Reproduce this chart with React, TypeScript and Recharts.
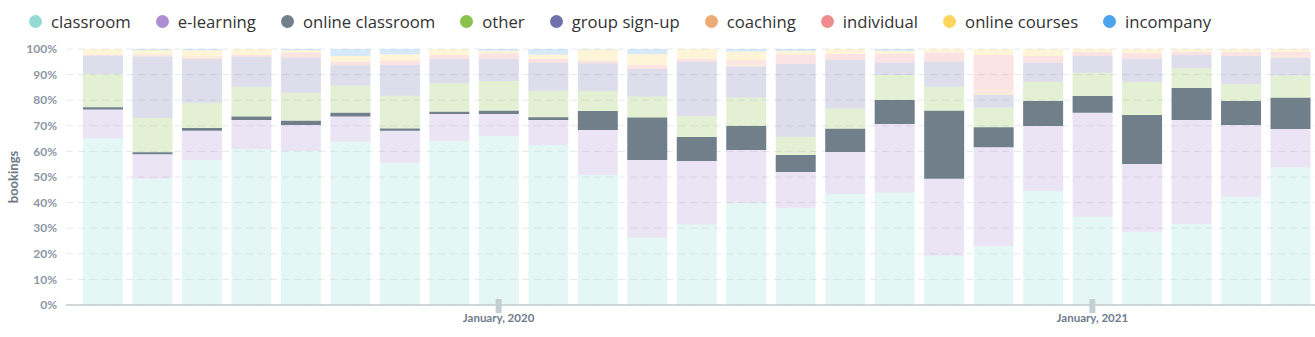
import { BarChart, Bar, XAxis, YAxis, CartesianGrid, Legend } from 'recharts';

// months shown, May 2019 .. May 2021
const months = [
  'May 2019', 'Jun 2019', 'Jul 2019', 'Aug 2019', 'Sep 2019', 'Oct 2019', 'Nov 2019', 'Dec 2019',
  'Jan 2020', 'Feb 2020', 'Mar 2020', 'Apr 2020', 'May 2020', 'Jun 2020', 'Jul 2020', 'Aug 2020',
  'Sep 2020', 'Oct 2020', 'Nov 2020', 'Dec 2020', 'Jan 2021', 'Feb 2021', 'Mar 2021', 'Apr 2021', 'May 2021',
];

const tickMonths = ['Jan 2020', 'Jan 2021'];
const tickLabels = ['January, 2020', 'January, 2021'];
const percentTicks = [0, 0.1, 0.2, 0.3, 0.4, 0.5, 0.6, 0.7, 0.8, 0.9, 1];

// share of bookings per month (%)
const classroom = [65.3, 49.5, 56.6, 60.9, 60.2, 63.8, 55.6, 64.2, 66.0, 62.5, 50.8, 26.3, 31.5, 39.7, 38.0, 43.4, 43.9, 19.3, 23.0, 44.5, 34.5, 28.6, 31.6, 42.3, 53.9];
const eLearning = [11.3, 9.5, 11.5, 11.4, 10.1, 9.8, 12.5, 10.4, 8.6, 9.8, 17.6, 30.3, 24.8, 20.8, 14.0, 16.4, 26.8, 30.0, 38.6, 25.4, 40.6, 26.5, 40.7, 28.0, 14.9];
const onlineClassroom = [0.9, 0.8, 1.0, 1.3, 1.7, 1.5, 0.9, 0.9, 1.3, 1.0, 7.4, 16.6, 9.4, 9.4, 6.6, 9.0, 9.4, 26.6, 7.8, 9.8, 6.5, 19.1, 12.5, 9.4, 12.2];
const other = [13.0, 13.4, 9.9, 11.7, 10.9, 10.6, 12.8, 11.1, 11.6, 10.4, 7.8, 8.2, 8.2, 11.1, 7.1, 8.0, 9.7, 9.4, 7.7, 7.5, 9.1, 12.9, 7.8, 6.6, 8.8];
const groupSignUp = [7.2, 24.1, 17.1, 11.7, 13.7, 8.0, 12.0, 9.5, 8.6, 10.9, 10.8, 10.8, 21.2, 12.1, 28.4, 18.9, 4.8, 9.7, 4.9, 7.4, 6.7, 9.0, 5.1, 11.0, 6.9];
const coaching = [0, 0.4, 1.3, 0, 0, 0, 0, 0, 0, 0, 0, 0, 0, 1.0, 0, 0, 0, 0, 2.3, 0, 0, 0, 0, 0, 0.8];
const individual = [0.3, 0.3, 0, 0.7, 2.0, 1.3, 1.7, 1.6, 2.2, 1.5, 1.0, 1.5, 1.1, 1.3, 3.8, 2.3, 3.4, 3.6, 13.4, 2.7, 1.3, 2.2, 1.2, 1.4, 1.5];
const onlineCourses = [2.3, 1.7, 2.1, 2.3, 0.9, 2.3, 2.5, 2.3, 1.0, 1.8, 4.4, 4.3, 3.9, 3.5, 1.3, 2.0, 1.3, 1.4, 2.3, 2.7, 1.3, 1.7, 1.1, 1.3, 1.1];
const incompany = [0, 0.5, 0.5, 0, 0.5, 2.7, 2.1, 0, 0.7, 2.1, 0.2, 2.0, 0, 1.0, 0.8, 0, 0.7, 0, 0, 0, 0, 0, 0, 0, 0];

const seriesNames = ['classroom', 'e-learning', 'online classroom', 'other', 'group sign-up', 'coaching', 'individual', 'online courses', 'incompany'];
const seriesValues = [classroom, eLearning, onlineClassroom, other, groupSignUp, coaching, individual, onlineCourses, incompany];
const seriesColors = ['#94dcd3', '#ad8fd1', '#717f8b', '#8bc24c', '#7070ad', '#eeaa74', '#ef8c8c', '#fcd65c', '#4ea4ec'];

const data = months.map((month, i) => {
  const row: Record<string, string | number> = { month };
  seriesNames.forEach((name, s) => {
    row[name] = seriesValues[s][i];
  });
  return row;
});

function MonthTick(props: any) {
  const { x, y, payload } = props;
  const i = tickMonths.indexOf(payload.value);
  if (i < 0) return <g />;
  return (
    <g>
      <rect x={x - 3} y={y - 6} width={6} height={14} fill="#c5cfd2" />
      <text x={x} y={y + 17} textAnchor="middle" fontSize={11.5} fontWeight={700} fill="#6f7b89" fontFamily="Lato, sans-serif">
        {tickLabels[i]}
      </text>
    </g>
  );
}

function YTitle(props: any) {
  const { viewBox } = props;
  const cx = 13;
  const cy = viewBox.y + viewBox.height / 2;
  return (
    <text x={cx} y={cy} transform={`rotate(-90, ${cx}, ${cy})`} textAnchor="middle" dominantBaseline="central"
      fontSize={13} fontWeight={700} fill="#6d7987" fontFamily="Lato, sans-serif">
      bookings
    </text>
  );
}

const renderLegend = () => (
  <div style={{ display: 'flex', alignItems: 'center', height: 42, paddingLeft: 29, fontFamily: '"Open Sans", sans-serif', fontSize: 16.7, color: '#333' }}>
    {seriesNames.map((name, i) => (
      <div key={name} style={{ display: 'flex', alignItems: 'center', marginRight: 25 }}>
        <span style={{ display: 'inline-block', width: 13, height: 13, borderRadius: '50%', background: seriesColors[i], marginRight: 9 }} />
        <span>{name}</span>
      </div>
    ))}
  </div>
);

export default function App() {
  return (
    <div style={{ position: 'absolute', left: 0, top: 0, background: '#fff' }}>
      <BarChart width={1315} height={337} data={data} stackOffset="expand" margin={{ top: 7, right: 0, bottom: 0, left: 0 }}>
        <Legend verticalAlign="top" align="left" content={renderLegend} wrapperStyle={{ top: 0, left: 0 }} />
        <CartesianGrid vertical={false} stroke="#e6e9ec" strokeDasharray="7 5" />
        <XAxis
          dataKey="month"
          interval={0}
          tick={<MonthTick />}
          tickLine={false}
          tickSize={0}
          tickMargin={0}
          height={32}
          padding={{ left: 12, right: 0 }}
          axisLine={{ stroke: '#c3cbcf', strokeWidth: 1.5 }}
        />
        <YAxis
          width={66}
          domain={[0, 1]}
          ticks={percentTicks}
          tickFormatter={(v: number) => `${Math.round(v * 100)}%`}
          axisLine={false}
          tickLine={false}
          tickMargin={3}
          tick={{ fontSize: 12, fontWeight: 700, fill: '#8c97a4', fontFamily: 'Lato, sans-serif' }}
          label={<YTitle />}
        />
        {seriesNames.map((name, i) => (
          <Bar
            key={name}
            dataKey={name}
            stackId="bookings"
            fill={seriesColors[i]}
            fillOpacity={name === 'online classroom' ? 1 : 0.24}
            barSize={40}
            isAnimationActive={false}
          />
        ))}
      </BarChart>
    </div>
  );
}
